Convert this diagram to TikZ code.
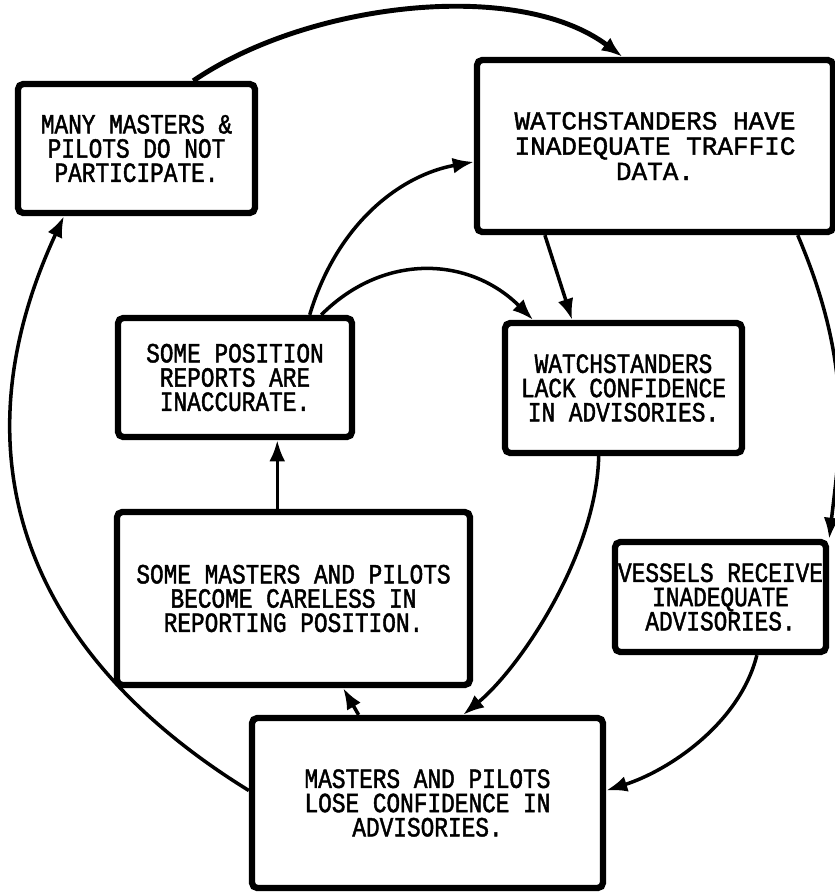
\documentclass[tikz,border=0pt]{standalone}
\usepackage{fontspec}
\newfontfamily\typefont{Liberation Mono}[FakeStretch=0.82, FakeBold=1.6]
\newfontfamily\widefont{Liberation Mono}[FakeBold=1.6]
\usetikzlibrary{arrows.meta}
\begin{document}
\begin{tikzpicture}[
    box/.style={draw, line width=1.8pt, rounded corners=1.5pt, align=center, inner sep=0pt,
      font=\typefont\fontsize{7.9}{6.9}\selectfont},
    arr/.style={line width=1pt, -{Latex[length=6pt,width=4.5pt]}}]
    \useasboundingbox (0,0) rectangle (8.35,-8.92);
    \node[box, minimum width=2.37cm, minimum height=1.29cm] (A) at (1.365,-1.485)
      {MANY MASTERS \&\\PILOTS DO NOT\\PARTICIPATE.};
    \node[box, minimum width=3.56cm, minimum height=1.72cm, font=\widefont\fontsize{7.4}{7.2}\selectfont] (B) at (6.55,-1.46)
      {WATCHSTANDERS HAVE\\INADEQUATE TRAFFIC\\DATA.};
    \node[box, minimum width=2.34cm, minimum height=1.19cm] (C) at (2.35,-3.775)
      {SOME POSITION\\REPORTS ARE\\INACCURATE.};
    \node[box, minimum width=2.37cm, minimum height=1.30cm] (D) at (6.235,-3.88)
      {WATCHSTANDERS\\LACK CONFIDENCE\\IN ADVISORIES.};
    \node[box, minimum width=3.53cm, minimum height=1.73cm] (E) at (2.935,-5.985)
      {SOME MASTERS AND PILOTS\\BECOME CARELESS IN\\REPORTING POSITION.};
    \node[box, minimum width=2.11cm, minimum height=1.10cm] (F) at (7.205,-5.97)
      {VESSELS RECEIVE\\INADEQUATE\\ADVISORIES.};
    \node[box, minimum width=3.51cm, minimum height=1.70cm] (G) at (4.275,-8.03)
      {MASTERS AND PILOTS\\LOSE CONFIDENCE IN\\ADVISORIES.};
    \draw[arr, line width=1.4pt] (A.50) .. controls +(1.14,0.78) and +(-1.05,0.79) .. (B.110);
    \draw[arr] (B.-32) .. controls +(0.56,-1.31) and +(0.11,0.94) .. (F.north east);
    \draw[arr] (B.-141.5) -- (D.127);
    \draw[arr] (C.40) .. controls +(0.28,0.93) and +(-0.72,-0.13) .. (B.185);
    \draw[arr] (C.36) .. controls +(0.63,0.63) and +(-0.63,0.63) .. (D.143);
    \draw[arr] (C.-56 |- E.north) -- (C.-56);
    \draw[arr] (D.-110) .. controls +(-0.02,-0.97) and +(0.58,0.48) .. (G.68);
    \draw[arr] (F.-58) .. controls +(-0.17,-0.68) and +(0.63,0.20) .. (G.4);
    \draw[arr] (G.128) -- (E.-61);
    \draw[arr] (G.176) .. controls +(-2.27,1.40) and +(-1.10,-2.37) .. (A.-137);
\end{tikzpicture}
\end{document}
